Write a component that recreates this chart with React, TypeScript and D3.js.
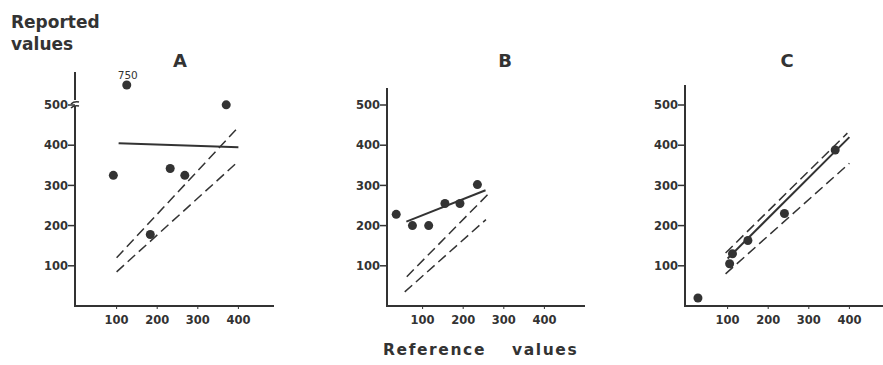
import React from "react";
import * as d3 from "d3";

// Scatter data for the three panels (reference value, reported value)
const refA = [92, 125, 183, 232, 268, 370];
const repA = [325, 750, 178, 342, 325, 502];
const refB = [35, 75, 115, 155, 192, 235];
const repB = [228, 200, 200, 255, 255, 302];
const refC = [27, 105, 112, 150, 240, 365];
const repC = [20, 105, 130, 163, 230, 388];

// Fitted line (solid) and limit lines (dashed): [x1, y1, x2, y2]
const fitA = [105, 405, 400, 395];
const fitB = [60, 210, 255, 288];
const fitC = [100, 118, 400, 420];
const limitsA = [[100, 120, 400, 445], [100, 85, 400, 360]];
const limitsB = [[61, 73, 268, 285], [56, 35, 256, 215]];
const limitsC = [[95, 132, 395, 430], [95, 80, 400, 355]];

const panelTitles = ["A", "B", "C"];
const xTicks = [100, 200, 300, 400];
const yTicks = [100, 200, 300, 400, 500];
const BREAK = 600; // values above this sit beyond the axis break

const INK = "#333";
const FONT = "'DejaVu Sans', sans-serif";

type PanelSpec = {
  title: string;
  xs: number[];
  ys: number[];
  fit: number[];
  limits: number[][];
  origin: number; // pixel position of x = 0
  axisX: number;
  axisTop: number;
  axisRight: number;
  titleX: number;
  broken?: boolean;
};

const panels: PanelSpec[] = [
  { title: panelTitles[0], xs: refA, ys: repA, fit: fitA, limits: limitsA, origin: 76, axisX: 75, axisTop: 72, axisRight: 274, titleX: 180, broken: true },
  { title: panelTitles[1], xs: refB, ys: repB, fit: fitB, limits: limitsB, origin: 382, axisX: 387, axisTop: 88, axisRight: 585, titleX: 505 },
  { title: panelTitles[2], xs: refC, ys: repC, fit: fitC, limits: limitsC, origin: 687, axisX: 685, axisTop: 85, axisRight: 883, titleX: 787 },
];

const baseY = 306;

function Panel({ p }: { p: PanelSpec }) {
  const x = d3.scaleLinear().domain([0, 500]).range([p.origin, p.origin + 203]);
  // values above the break (only panel A) are squeezed into the top strip
  const y = d3.scaleLinear().domain([0, 500, 750]).range([baseY, 105, 85]);
  const line = d3.line<[number, number]>().x((d) => x(d[0])).y((d) => y(d[1]));
  const seg = (s: number[]) => line([[s[0], s[1]], [s[2], s[3]]]) || "";

  return (
    <g>
      <text x={p.titleX} y={67} textAnchor="middle" fontFamily={FONT} fontWeight="bold" fontSize={18} fill={INK}>
        {p.title}
      </text>
      {/* axes */}
      {p.broken ? (
        <g stroke={INK} strokeWidth={2} fill="none">
          <line x1={p.axisX} x2={p.axisX} y1={baseY + 1} y2={106} />
          <line x1={p.axisX} x2={p.axisX} y1={100} y2={p.axisTop} />
          <path d={`M${p.axisX - 4},${104} q3,-3 8,-2`} strokeWidth={1.5} />
          <path d={`M${p.axisX - 4},${108} q3,-3 8,-2`} strokeWidth={1.5} />
        </g>
      ) : (
        <line x1={p.axisX} x2={p.axisX} y1={baseY + 1} y2={p.axisTop} stroke={INK} strokeWidth={2} />
      )}
      <line x1={p.axisX - 1} x2={p.axisRight} y1={baseY} y2={baseY} stroke={INK} strokeWidth={2} />
      {yTicks.map((t) => (
        <g key={t}>
          <line x1={p.axisX - 7} x2={p.axisX} y1={y(t)} y2={y(t)} stroke={INK} strokeWidth={1.5} />
          <text x={p.axisX - 7} y={y(t)} dy="0.36em" textAnchor="end" fontFamily={FONT} fontWeight="bold" fontSize={11.5} fill={INK}>
            {t}
          </text>
        </g>
      ))}
      {xTicks.map((t) => (
        <g key={t}>
          <line x1={x(t)} x2={x(t)} y1={baseY} y2={baseY + 3} stroke={INK} strokeWidth={1} />
          <text x={x(t)} y={324} textAnchor="middle" fontFamily={FONT} fontWeight="bold" fontSize={11.5} fill={INK}>
            {t}
          </text>
        </g>
      ))}
      {/* limit lines and fitted line */}
      {p.limits.map((l, i) => (
        <path key={i} d={seg(l)} stroke={INK} strokeWidth={1.5} strokeDasharray="10 5" fill="none" />
      ))}
      <path d={seg(p.fit)} stroke={INK} strokeWidth={2} fill="none" />
      {/* points */}
      {p.xs.map((v, i) => (
        <circle key={i} cx={x(v)} cy={y(p.ys[i])} r={4.5} fill={INK} />
      ))}
      {p.ys.map((v, i) =>
        v > BREAK ? (
          <text key={"l" + i} x={x(p.xs[i]) + 1} y={y(v) - 6} textAnchor="middle" fontFamily={FONT} fontSize={10.5} fill={INK}>
            {v}
          </text>
        ) : null
      )}
    </g>
  );
}

export default function App() {
  return (
    <svg width={883} height={365} style={{ position: "absolute", left: 0, top: 0, background: "#fff" }}>
      <text fontFamily={FONT} fontWeight="bold" fontSize={17} fill={INK}>
        <tspan x={11} y={28}>Reported</tspan>
        <tspan x={11} y={50}>values</tspan>
      </text>
      {panels.map((p) => (
        <Panel key={p.title} p={p} />
      ))}
      <text y={355} fontFamily={FONT} fontWeight="bold" fontSize={15.5} fill={INK} letterSpacing={1.6}>
        <tspan x={383}>Reference</tspan>
        <tspan x={512}>values</tspan>
      </text>
    </svg>
  );
}
